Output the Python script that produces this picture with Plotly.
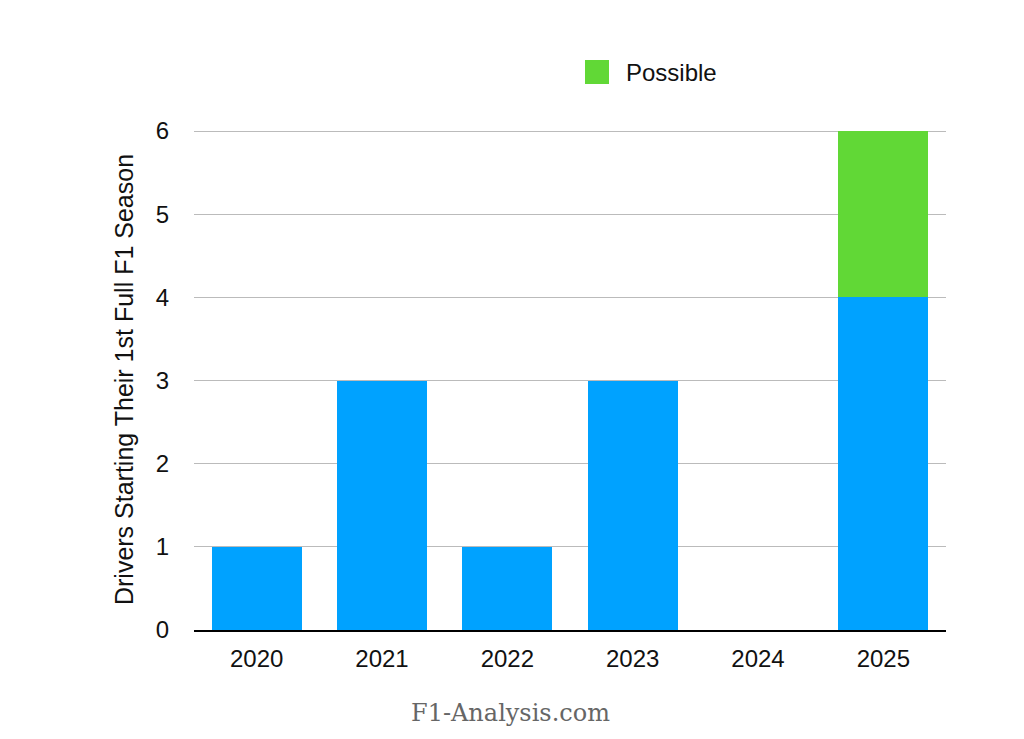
import plotly.graph_objs as go

years = ['2020', '2021', '2022', '2023', '2024', '2025']
confirmed = [1, 3, 1, 3, 0, 4]
possible = [0, 0, 0, 0, 0, 2]
y_ticks = [0, 1, 2, 3, 4, 5, 6]

BLUE = '#00A2FF'
GREEN = '#61D836'
FONT = 'Liberation Sans, Arial, sans-serif'

# page has an 8px body margin, so plot area in figure coords is shifted
# top is 2px higher than the 6 line so that gridline still gets drawn
L, R, T, B = 186, 938, 121, 622
W, H = R - L, B - T
y_top = 6 * H / (B - 123)

fig = go.Figure()
fig.add_trace(go.Bar(x=years, y=confirmed, name='Confirmed',
                     marker=dict(color=BLUE, line=dict(width=0)),
                     showlegend=False))
fig.add_trace(go.Bar(x=years, y=possible, name='Possible',
                     marker=dict(color=GREEN, line=dict(width=0)),
                     showlegend=False))

# legend drawn by hand so the swatch matches the big square
fig.add_shape(type='rect', xref='paper', yref='paper',
              x0=(577 - L) / W, x1=(601 - L) / W,
              y0=(B - 76) / H, y1=(B - 52) / H,
              fillcolor=GREEN, line=dict(width=0))
fig.add_annotation(text='Possible', xref='paper', yref='paper',
                   x=(616 - L) / W, y=(B - 64) / H,
                   xanchor='left', yanchor='middle', showarrow=False,
                   font=dict(family=FONT, size=24, color='#111111'))

# watermark
fig.add_annotation(text='F1-Analysis.com', xref='paper', yref='paper',
                   x=(502 - L) / W, y=(B - 705) / H,
                   xanchor='center', yanchor='middle', showarrow=False,
                   font=dict(family='DejaVu Serif, serif', size=24, color='#666666'))

fig.update_layout(
    barmode='stack',
    bargap=0.28,
    width=1024,
    height=739,
    margin=dict(l=L, r=1024 - R, t=T, b=739 - B),
    plot_bgcolor='white',
    paper_bgcolor='white',
    font=dict(family=FONT, size=24, color='#111111'),
    xaxis=dict(showgrid=False, showline=True, linecolor='black', linewidth=2,
               ticks='', tickfont=dict(size=24), ticklabelstandoff=6),
    yaxis=dict(range=[0, y_top], tickvals=y_ticks, showgrid=True,
               gridcolor='#BBBBBB', gridwidth=1, zeroline=False,
               showline=False, ticks='', ticklabelstandoff=24,
               tickfont=dict(size=24),
               title=dict(text='Drivers Starting Their 1st Full F1 Season',
                          font=dict(size=25), standoff=14)),
)

fig.write_html('out.html')
